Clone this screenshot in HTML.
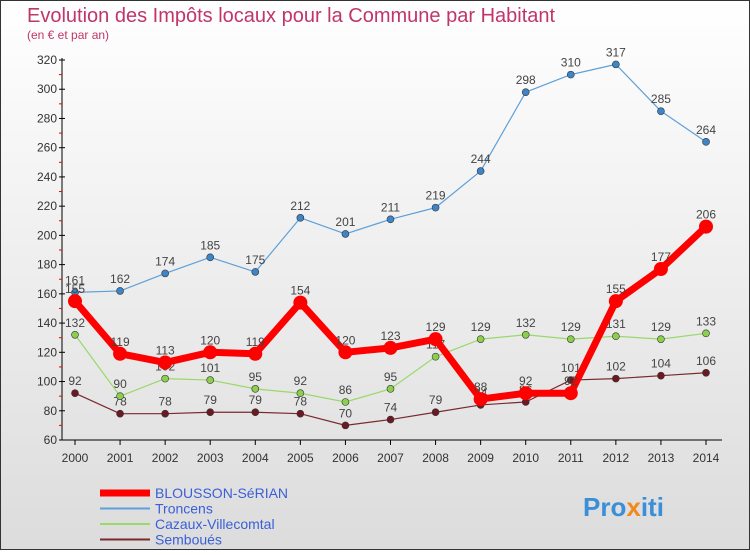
<!DOCTYPE html>
<html><head><meta charset="utf-8"><style>
body{margin:0;width:750px;height:550px;overflow:hidden;font-family:"Liberation Sans",sans-serif}
</style></head><body>
<svg width="750" height="550" xmlns="http://www.w3.org/2000/svg">
<defs><linearGradient id="bg" x1="0" y1="0" x2="0" y2="1"><stop offset="0" stop-color="#ffffff"/><stop offset="1" stop-color="#dcdcdc"/></linearGradient></defs>
<rect x="0.5" y="0.5" width="749" height="549" fill="url(#bg)" stroke="#333"/>
<text x="27" y="22" font-size="20" fill="#c0356a">Evolution des Impôts locaux pour la Commune par Habitant</text>
<text x="27" y="39" font-size="12" fill="#c0356a">(en € et par an)</text>
<g id="axes"></g><g id="series"></g><g id="legend"></g>
<text x="583" y="516" font-size="26" font-weight="bold" fill="#3a8fd8">Pro<tspan fill="#f08a1c">x</tspan>iti</text>
</svg>
<script>
const years=[2000,2001,2002,2003,2004,2005,2006,2007,2008,2009,2010,2011,2012,2013,2014];
const blousson=[155,119,113,120,119,154,120,123,129,88,92,92,155,177,206];
const troncens=[161,162,174,185,175,212,201,211,219,244,298,310,317,285,264];
const cazaux=[132,90,102,101,95,92,86,95,117,129,132,129,131,129,133];
const semboues=[92,78,78,79,79,78,70,74,79,84,86,101,102,104,106];
const yTicks=[60,80,100,120,140,160,180,200,220,240,260,280,300,320];
const NS="http://www.w3.org/2000/svg";
const xs=i=>75+i*(631/14);
const ys=v=>440-(v-60)*(380/260);
function mk(tag,attrs,parent){const e=document.createElementNS(NS,tag);for(const k in attrs)e.setAttribute(k,attrs[k]);parent.appendChild(e);return e;}
const ax=document.getElementById('axes');
let l=mk('line',{x1:62,y1:58,x2:62,y2:440,stroke:'#000'},ax);


l=mk('line',{x1:62,y1:440,x2:722,y2:440,stroke:'#000'},ax);


yTicks.forEach((v,i)=>{
  const y=ys(v);
  mk('line',{x1:59,y1:y,x2:65,y2:y,stroke:'#000'},ax);
  if(i<yTicks.length-1) mk('line',{x1:59,y1:ys(v+10),x2:62,y2:ys(v+10),stroke:'#e00'},ax);
  const t=mk('text',{x:57,y:y+4,'font-size':12,'text-anchor':'end',fill:'#333'},ax);
  t.textContent=v;
  
  
});
years.forEach((yr,i)=>{
  const x=xs(i);
  mk('line',{x1:x,y1:440,x2:x,y2:445,stroke:'#000'},ax);
  const t=mk('text',{x:x,y:462,'font-size':12,'text-anchor':'middle',fill:'#333'},ax);
  t.textContent=yr;
  
  
});
const sg=document.getElementById('series');
function draw(data,color,width,r,name,dot){
  const g=mk('g',{},sg);
  
  
  const p=mk('polyline',{points:data.map((v,i)=>xs(i)+','+ys(v)).join(' '),fill:'none',stroke:color,'stroke-width':width,'stroke-linejoin':'round'},g);
  
  
  data.forEach((v,i)=>{
    const c=mk('circle',{cx:xs(i),cy:ys(v),r:r,fill:dot,stroke:'#333','stroke-width':r>5?0:0.6},g);
    
    
    const t=mk('text',{x:xs(i),y:ys(v)-8,'font-size':12,'text-anchor':'middle',fill:'#444'},g);
    t.textContent=v;
    
    
  });
}
draw(semboues,'#7a2a30',1.2,3.5,'semboues','#6b1a22');
draw(cazaux,'#9ad86a',1.2,3.5,'cazaux','#8ccf4f');
draw(troncens,'#5ea0d8',1.2,3.5,'troncens','#3d85c8');
draw(blousson,'#ff0000',7,7,'blousson','#ff0000');
const lg=document.getElementById('legend');
[['BLOUSSON-SéRIAN','#ff0000',7],['Troncens','#5ea0d8',2],['Cazaux-Villecomtal','#9ad86a',2],['Semboues','#7a2a30',2]].forEach((e,i)=>{
  const y=493+i*15.5;
  const g=mk('g',{},lg);
  
  
  mk('line',{x1:100,y1:y,x2:150,y2:y,stroke:e[1],'stroke-width':e[2]},g);
  const t=mk('text',{x:155,y:y+5,'font-size':14,fill:'#3a5fd8'},g);
  t.textContent=i==3?'Semboués':e[0];
});
</script>
</body></html>
